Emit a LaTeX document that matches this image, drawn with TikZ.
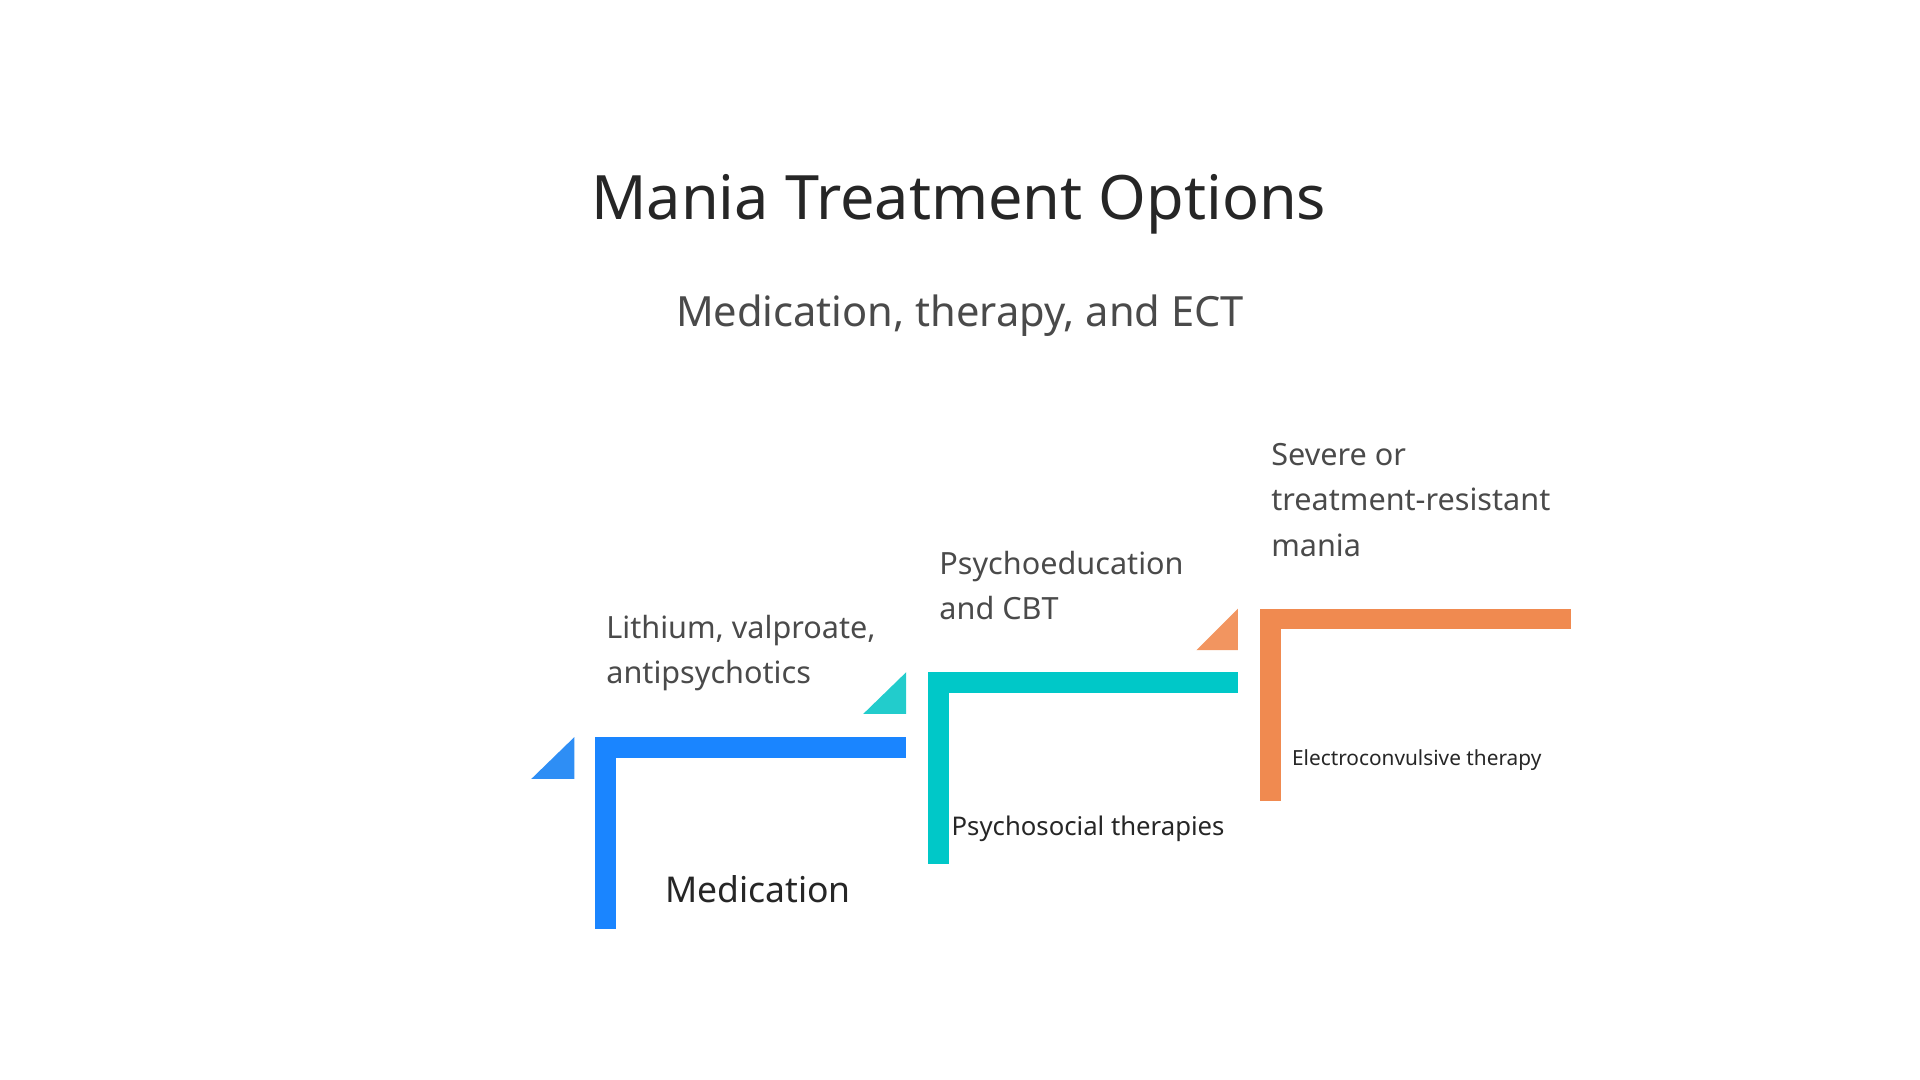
\documentclass[tikz,border=0pt]{standalone}
\usepackage{fontspec}
\setmainfont{Noto Sans}
\definecolor{cblue}{HTML}{1A85FF}
\definecolor{cblueL}{HTML}{2E8EF5}
\definecolor{cteal}{HTML}{00C8C8}
\definecolor{ctealL}{HTML}{22CCCC}
\definecolor{corange}{HTML}{F08A50}
\definecolor{corangeL}{HTML}{F29560}
\definecolor{ctext}{HTML}{4A4A4A}
\begin{document}
\begin{tikzpicture}[x=1pt,y=-1pt,
 desc/.style={anchor=north west,align=left,text=ctext,font=\fontsize{25}{37}\selectfont,inner sep=0pt},
 lbl/.style={anchor=west,text=black!85,inner sep=0pt}]
\useasboundingbox (0,0) rectangle (1568,882);
\node (title) at (783,167) {\fontsize{50}{60}\selectfont\color{black!85}Mania Treatment Options};
\node (sub) at (784,258) {\fontsize{34}{40}\selectfont\color{ctext}Medication, therapy, and ECT};
% blue
\fill[cblue] (486,602) rectangle (740,619);
\fill[cblue] (486,602) rectangle (503,759);
\fill[cblueL] (434,636) -- (469,636) -- (469,602) -- cycle;
\node[desc] (d1) at (495,502) {Lithium, valproate,\\antipsychotics};
\node[lbl,font=\fontsize{29}{34}\selectfont\bfseries] (l1) at (543,726) {Medication};
% teal
\fill[cteal] (758,549) rectangle (1011,566);
\fill[cteal] (758,549) rectangle (775,706);
\fill[ctealL] (705,583) -- (740,583) -- (740,549) -- cycle;
\node[desc] (d2) at (767,450) {Psychoeducation\\and CBT};
\node[lbl,font=\fontsize{21}{26}\selectfont\bfseries] (l2) at (777,677) {Psychosocial therapies};
% orange
\fill[corange] (1029,497) rectangle (1283,514);
\fill[corange] (1029,497) rectangle (1046,654);
\fill[corangeL] (977,531) -- (1011,531) -- (1011,497) -- cycle;
\node[desc] (d3) at (1038,362) {Severe or\\treatment-resistant\\mania};
\node[lbl,font=\fontsize{17}{21}\selectfont\bfseries] (l3) at (1055,621) {Electroconvulsive therapy};
\end{tikzpicture}
\end{document}
